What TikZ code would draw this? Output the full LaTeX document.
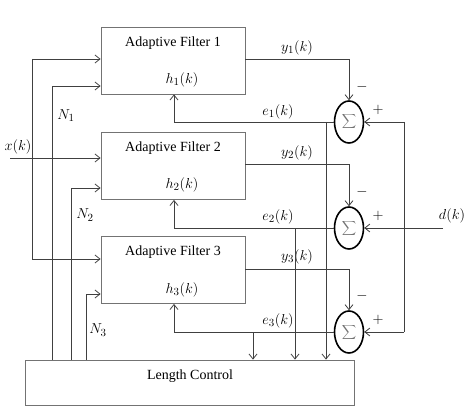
\documentclass[tikz,border=0pt]{standalone}
\usepackage{fontspec}
\setmainfont{Liberation Serif}
\usetikzlibrary{arrows.meta,shapes.geometric}
\begin{document}
\begin{tikzpicture}[x=1pt,y=-1pt,
 line/.style={draw=black!75, line width=0.8pt},
 arr/.style={line, -{Straight Barb[length=5pt,width=8pt]}},
 box/.style={draw=black!55, line width=0.8pt, minimum width=144pt, minimum height=67pt, inner sep=0pt},
 sumnode/.style={ellipse, draw=black, line width=1.6pt, minimum width=29pt, minimum height=42pt, inner sep=0pt, text=black!55, font=\fontsize{13}{15}\selectfont},
 lbl/.style={font=\fontsize{14}{16}\selectfont, inner sep=1pt},
 mlbl/.style={font=\fontsize{15}{17}\selectfont, inner sep=1pt},
]
\useasboundingbox (0,0) rectangle (474,409);

% boxes
\node[box] (f1) at (173,60.5) {};
\node[box] (f2) at (173,166) {};
\node[box] (f3) at (173,270) {};
\node[box, minimum width=329pt, minimum height=45pt] (lc) at (189.5,382.5) {};

\node[lbl] (t1) at (173,43) {Adaptive Filter 1};
\node[mlbl] (hh1) at (182,80) {$h_1(k)$};
\node[lbl] (t2) at (173,148) {Adaptive Filter 2};
\node[mlbl] (hh2) at (182,185) {$h_2(k)$};
\node[lbl] (t3) at (173,252) {Adaptive Filter 3};
\node[mlbl] (hh3) at (182,290) {$h_3(k)$};
\node[lbl] (lct) at (190,376) {Length Control};

% summers
\node[sumnode] (s1) at (349,122) {$\displaystyle\sum$};
\node[sumnode] (s2) at (349,228) {$\displaystyle\sum$};
\node[sumnode] (s3) at (349,332) {$\displaystyle\sum$};

% input x(k)
\coordinate (xk) at (10,158);
\coordinate (xtop) at (32,59);
\coordinate (xbot) at (32,259);
\node[mlbl] (xl) at (18,147) {$x(k)$};
\draw[arr] (xk) -- (f2.west |- xk);
\draw[line] (xtop) -- (xbot);
\draw[arr] (xtop) -- (f1.west |- xtop);
\draw[arr] (xbot) -- (f3.west |- xbot);

% length lines
\coordinate (n1) at (52,86);
\coordinate (n2) at (71,188);
\coordinate (n3) at (86,294);
\draw[arr] (lc.north -| n1) -- (n1) -- (f1.west |- n1);
\draw[arr] (lc.north -| n2) -- (n2) -- (f2.west |- n2);
\draw[arr] (lc.north -| n3) -- (n3) -- (f3.west |- n3);
\node[mlbl] (nl1) at (66,116) {$N_1$};
\node[mlbl] (nl2) at (85,215) {$N_2$};
\node[mlbl] (nl3) at (98,330) {$N_3$};

% outputs
\coordinate (y1c) at (349,59);
\coordinate (y2c) at (349,164);
\coordinate (y3c) at (349,269);
\draw[arr] (f1.east |- y1c) -- (y1c) -- (s1.north);
\draw[arr] (f2.east |- y2c) -- (y2c) -- (s2.north);
\draw[arr] (f3.east |- y3c) -- (y3c) -- (s3.north);
\node[mlbl] (yl1) at (297,48) {$y_1(k)$};
\node[mlbl] (yl2) at (297,153) {$y_2(k)$};
\node[mlbl] (yl3) at (297,257) {$y_3(k)$};

% errors
\coordinate (e1c) at (174,122);
\coordinate (e2c) at (174,228);
\coordinate (e3c) at (174,332);
\draw[arr] (s1.west) -- (e1c) -- (f1.south -| e1c);
\draw[arr] (s2.west) -- (e2c) -- (f2.south -| e2c);
\draw[arr] (s3.west) -- (e3c) -- (f3.south -| e3c);
\node[mlbl] (el1) at (278,112) {$e_1(k)$};
\node[mlbl] (el2) at (278,217) {$e_2(k)$};
\node[mlbl] (el3) at (278,321) {$e_3(k)$};

% taps to length control
\coordinate (tp1) at (326,122);
\coordinate (tp2) at (295,228);
\coordinate (tp3) at (253,332);
\draw[arr] (tp1) -- (lc.north -| tp1);
\draw[arr] (tp2) -- (lc.north -| tp2);
\draw[arr] (tp3) -- (lc.north -| tp3);

% desired signal
\coordinate (dk) at (443,228);
\coordinate (dtop) at (404,122);
\coordinate (dbot) at (404,332);
\draw[arr] (dk) -- (s2.east);
\draw[line] (dtop) -- (dbot);
\draw[arr] (dtop) -- (s1.east);
\draw[arr] (dbot) -- (s3.east);
\node[mlbl] (dl) at (452,216) {$d(k)$};

% signs
\node[mlbl] (m1) at (362,87) {$-$};
\node[mlbl] (p1) at (378,110) {$+$};
\node[mlbl] (m2) at (362,192) {$-$};
\node[mlbl] (p2) at (378,216) {$+$};
\node[mlbl] (m3) at (362,296) {$-$};
\node[mlbl] (p3) at (378,320) {$+$};
\end{tikzpicture}
\end{document}
